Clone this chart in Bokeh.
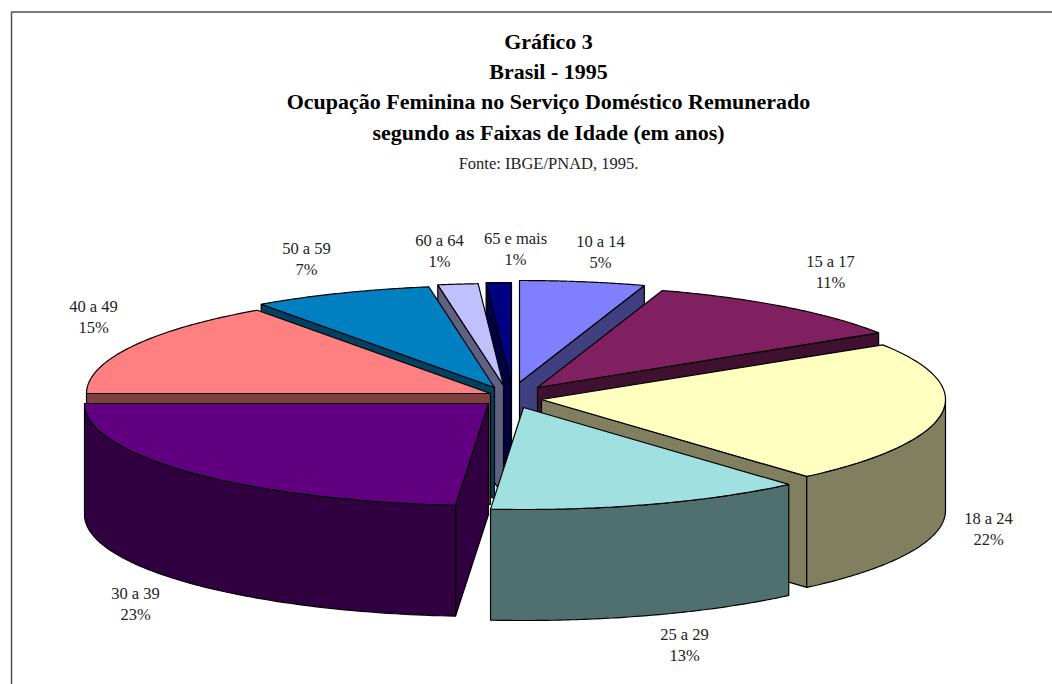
import numpy as np
from bokeh.core.properties import value
from bokeh.embed import file_html
from bokeh.models import Range1d
from bokeh.plotting import figure
from bokeh.resources import INLINE

# ---- data ----
categories = ["10 a 14", "15 a 17", "18 a 24", "25 a 29", "30 a 39",
              "40 a 49", "50 a 59", "60 a 64", "65 e mais"]
# slice shares
shares = [5.0, 11.0, 22.6, 12.7, 23.7, 15.2, 7.2, 1.6, 1.0]
# percentages as printed on the labels
percent_labels = ["5%", "11%", "22%", "13%", "23%", "15%", "7%", "1%", "1%"]
title_lines = ["Gráfico 3", "Brasil - 1995",
               "Ocupação Feminina no Serviço Doméstico Remunerado",
               "segundo as Faixas de Idade (em anos)"]
source_line = "Fonte: IBGE/PNAD, 1995."

# ---- style ----
top_colors = ["#8080FF", "#802060", "#FFFFC0", "#A0E0E0", "#600080",
              "#FF8080", "#0080C0", "#C0C0FF", "#000080"]
side_colors = ["#404080", "#401030", "#808060", "#507070", "#300040",
               "#804040", "#004060", "#606080", "#000040"]
draw_order = [0, 8, 7, 6, 1, 5, 2, 4, 3]

# ---- layout (page pixels) ----
CX, CY, RX, RY, DEPTH = 515, 394, 404, 102, 111
explode_x = [4, 22, 26, 8, -27, -25, -21, -12, -4]
explode_y = [-12, -7, 5, 13, 9, -1, -7, -9, -10]
label_x = [600, 830, 988, 684, 135, 93, 306, 439, 515]
label_y = [241, 261, 518, 634, 593, 306, 248, 240, 238]
title_y = [41, 71, 101, 132]
title_x = 548
FONT = value("Liberation Serif")

p = figure(width=1052, height=684, output_backend="svg", toolbar_location=None,
           x_range=Range1d(0, 1052), y_range=Range1d(684, 0),
           min_border=0, outline_line_color=None)
p.axis.visible = False
p.grid.visible = False

# chart frame
p.line([11, 11, 1052], [684, 11.5, 11.5], line_color="#505050", line_width=1.5)

edges = np.concatenate([[0], np.cumsum(shares)]) / sum(shares) * 2 * np.pi


def ring(theta, ox, oy):
    return CX + ox + RX * np.sin(theta), CY + oy - RY * np.cos(theta)


for i in draw_order:
    a0, a1 = edges[i], edges[i + 1]
    ox, oy = explode_x[i], explode_y[i]
    ax, ay = CX + ox, CY + oy
    arc = np.linspace(a0, a1, 80)
    ex, ey = ring(arc, ox, oy)
    # cut faces that look towards the viewer
    for th, facing in ((a0, np.sin(a0) < -1e-6), (a1, np.sin(a1) > 1e-6)):
        if facing:
            fx, fy = ring(np.array([th]), ox, oy)
            p.patch([ax, fx[0], fx[0], ax], [ay, fy[0], fy[0] + DEPTH, ay + DEPTH],
                    fill_color=side_colors[i], line_color="black", line_width=1.2)
    # outer wall (only the part that faces the viewer)
    lo, hi = max(a0, np.pi / 2), min(a1, 3 * np.pi / 2)
    if hi > lo:
        wa = np.linspace(lo, hi, 80)
        wx, wy = ring(wa, ox, oy)
        p.patch(np.concatenate([wx, wx[::-1]]),
                np.concatenate([wy, (wy + DEPTH)[::-1]]),
                fill_color=side_colors[i], line_color="black", line_width=1.2)
    # top face
    p.patch(np.concatenate([[ax], ex]), np.concatenate([[ay], ey]),
            fill_color=top_colors[i], line_color="black", line_width=1.2)

# labels
for i, name in enumerate(categories):
    p.text([label_x[i]], [label_y[i]], text=[name], text_font=FONT, text_font_size="16.5px",
           text_color="#222222", text_align="center", text_baseline="middle")
    p.text([label_x[i]], [label_y[i] + 21], text=[percent_labels[i]], text_font=FONT,
           text_font_size="16.5px", text_color="#222222", text_align="center", text_baseline="middle")

for line, y in zip(title_lines, title_y):
    p.text([title_x], [y], text=[line], text_font=FONT, text_font_size="22px",
           text_font_style="bold", text_color="black", text_align="center", text_baseline="middle")
p.text([title_x], [163], text=[source_line], text_font=FONT, text_font_size="16.5px",
       text_color="#222222", text_align="center", text_baseline="middle")

open("out.html", "w").write(file_html(p, INLINE))
